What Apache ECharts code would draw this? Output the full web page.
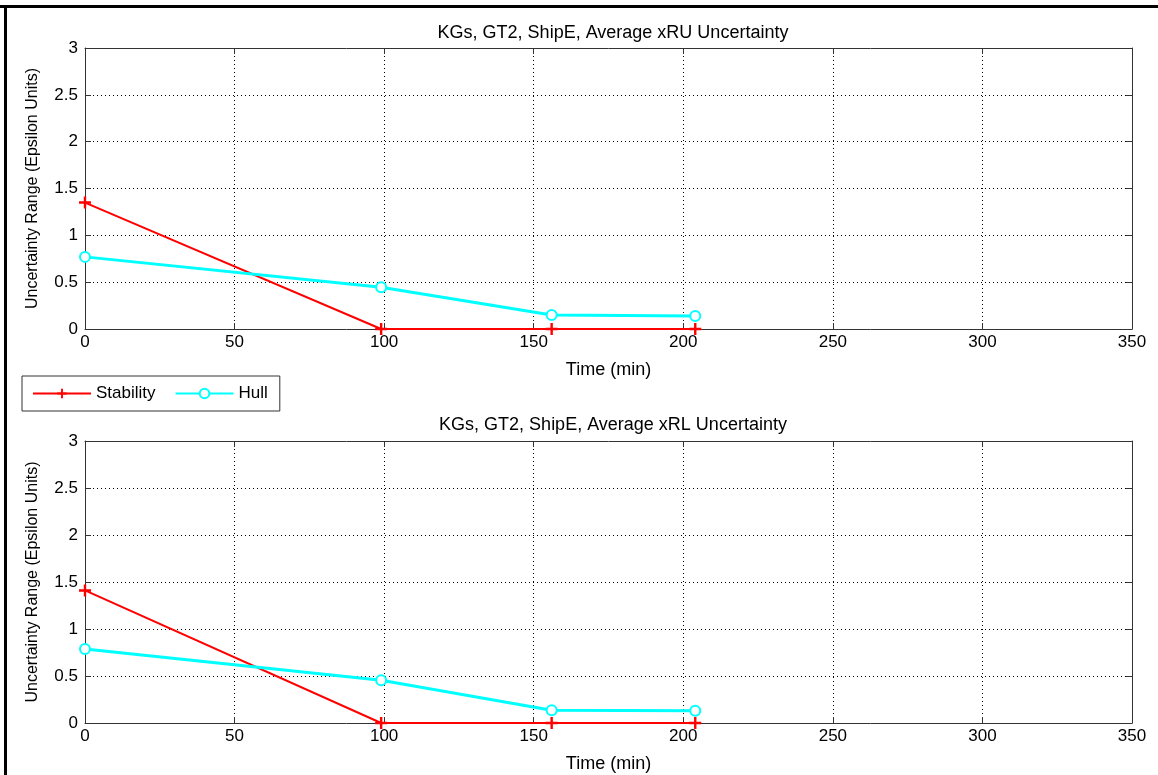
<!DOCTYPE html>
<html><head><meta charset="utf-8">
<script src="https://cdn.jsdelivr.net/npm/echarts@6/dist/echarts.min.js"></script>
<style>html,body{margin:0;padding:0;background:#fff}#c{width:1158px;height:775px}</style>
</head><body><div id="c"></div>
<script>
const titles = ['KGs, GT2, ShipE, Average xRU Uncertainty', 'KGs, GT2, ShipE, Average xRL Uncertainty'];
const timeTop = [0, 99, 156, 204];
const stabilityTop = [1.35, 0, 0, 0];
const hullTop = [0.77, 0.445, 0.15, 0.14];
const timeBottom = [0, 99, 156, 204];
const stabilityBottom = [1.41, 0, 0, 0];
const hullBottom = [0.787, 0.455, 0.135, 0.13];
const xTicks = [0, 50, 100, 150, 200, 250, 300, 350];
const yTicks = [0, 0.5, 1, 1.5, 2, 2.5, 3];

const font = 'Liberation Sans, Arial, sans-serif';
const plus = 'path://M4,0 H6 V4 H10 V6 H6 V10 H4 V6 H0 V4 H4 Z';
const grids = [{left:85, right:26, top:48, height:281}, {left:85, right:26, top:441, height:282}];

function pairs(xs, ys){ return xs.map((x,i)=>[x, ys[i]]); }

const xAxes = [], yAxes = [];
grids.forEach((g,i)=>{
  xAxes.push({gridIndex:i, type:'value', min:xTicks[0], max:xTicks[xTicks.length-1], interval:xTicks[1]-xTicks[0], name:'Time (min)', nameLocation:'middle', nameGap:32,
    nameTextStyle:{color:'#000', fontSize:18, fontFamily:font},
    axisLine:{show:true, onZero:false, lineStyle:{color:'#333', width:1}},
    axisTick:{show:true, inside:true, length:6, lineStyle:{color:'#333'}},
    axisLabel:{color:'#000', fontSize:17, fontFamily:font, margin:5},
    splitLine:{show:true, lineStyle:{color:'#000', type:[1,3], width:1}}});
  xAxes.push({gridIndex:i, type:'value', position:'top', min:xTicks[0], max:xTicks[xTicks.length-1], interval:xTicks[1]-xTicks[0],
    axisLine:{show:true, onZero:false, lineStyle:{color:'#333', width:1}},
    axisTick:{show:true, inside:true, length:6, lineStyle:{color:'#333'}},
    axisLabel:{show:false}, splitLine:{show:false}});
  yAxes.push({gridIndex:i, type:'value', min:yTicks[0], max:yTicks[yTicks.length-1], interval:yTicks[1]-yTicks[0], name:'Uncertainty Range (Epsilon Units)', nameLocation:'middle', nameGap:44, nameRotate:90,
    nameTextStyle:{color:'#000', fontSize:16, fontFamily:font},
    axisLine:{show:true, onZero:false, lineStyle:{color:'#333', width:1}},
    axisTick:{show:true, inside:true, length:6, lineStyle:{color:'#333'}},
    axisLabel:{color:'#000', fontSize:17, fontFamily:font, margin:7},
    splitLine:{show:true, lineStyle:{color:'#000', type:[1,3], width:1}}});
  yAxes.push({gridIndex:i, type:'value', position:'right', min:yTicks[0], max:yTicks[yTicks.length-1], interval:yTicks[1]-yTicks[0],
    axisLine:{show:true, onZero:false, lineStyle:{color:'#333', width:1}},
    axisTick:{show:true, inside:true, length:6, lineStyle:{color:'#333'}},
    axisLabel:{show:false}, splitLine:{show:false}});
});

function stabSeries(xi, yi, data){
  return {name:'Stability', type:'line', xAxisIndex:xi, yAxisIndex:yi, data, symbol:plus, symbolSize:12,
    lineStyle:{color:'#ff0000', width:2}, itemStyle:{color:'#ff0000', borderWidth:0}, z:3, animation:false};
}
function hullSeries(xi, yi, data){
  return {name:'Hull', type:'line', xAxisIndex:xi, yAxisIndex:yi, data, symbol:'emptyCircle', symbolSize:10,
    lineStyle:{color:'#00ffff', width:3}, itemStyle:{color:'#00ffff', borderColor:'#00ffff', borderWidth:2}, z:4, animation:false};
}

const chart = echarts.init(document.getElementById('c'), null, {renderer:'canvas'});
chart.setOption({
  backgroundColor:'#fff',
  animation:false,
  title:[
    {text:titles[0], left:608, top:19, textAlign:'center', textStyle:{color:'#000', fontSize:18, fontWeight:'normal', fontFamily:font}},
    {text:titles[1], left:608, top:411, textAlign:'center', textStyle:{color:'#000', fontSize:18, fontWeight:'normal', fontFamily:font}}
  ],
  legend:{left:22, top:376, orient:'horizontal', itemWidth:58, itemHeight:12, itemGap:19, padding:[9,12,9,10],
    borderColor:'#333', borderWidth:1, backgroundColor:'#fff',
    textStyle:{color:'#000', fontSize:17, fontFamily:font}, data:['Stability','Hull']},
  grid:grids,
  xAxis:xAxes,
  yAxis:yAxes,
  series:[
    stabSeries(0,0,pairs(timeTop, stabilityTop)),
    hullSeries(0,0,pairs(timeTop, hullTop)),
    stabSeries(2,2,pairs(timeBottom, stabilityBottom)),
    hullSeries(2,2,pairs(timeBottom, hullBottom))
  ],
  graphic:[
    {type:'line', shape:{x1:0, y1:6.5, x2:1158, y2:6.5}, style:{stroke:'#000', lineWidth:3}},
    {type:'line', shape:{x1:5.5, y1:5, x2:5.5, y2:775}, style:{stroke:'#000', lineWidth:3}}
  ]
});
</script></body></html>
